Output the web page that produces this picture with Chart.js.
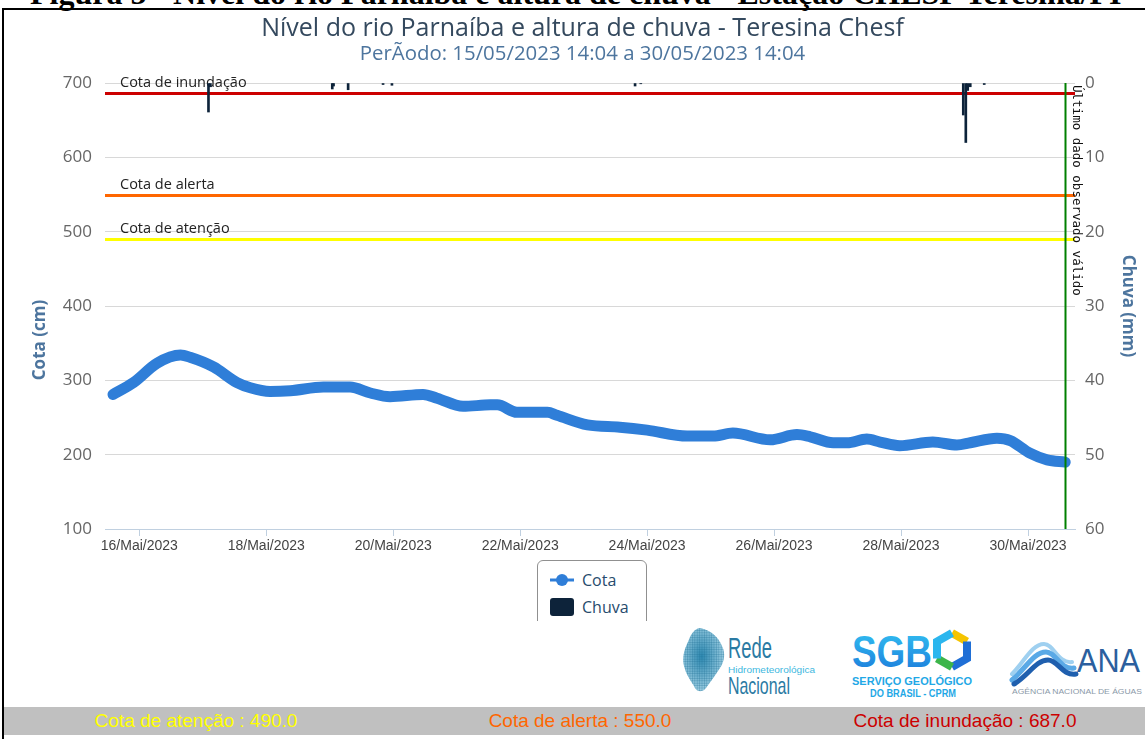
<!DOCTYPE html>
<html lang="pt-BR">
<head>
<meta charset="utf-8">
<title>Nível do rio Parnaíba e altura de chuva - Teresina Chesf</title>
<script src="https://cdn.jsdelivr.net/npm/chart.js@4.4.0/dist/chart.umd.min.js"></script>
<style>
  html,body{margin:0;padding:0;background:#fff;}
  body{width:1145px;height:739px;position:relative;overflow:hidden;font-family:"Open Sans",Arial,sans-serif;}
  #figura{position:absolute;left:30px;top:-23px;font:bold 32px "Liberation Serif","Times New Roman",serif;white-space:nowrap;line-height:32px;color:#000;}
  #grafico{position:absolute;left:0;top:0;width:1145px;height:621px;overflow:hidden;}
  #moldura{position:absolute;left:2px;top:8px;width:1160px;height:760px;border-left:2px solid #000;border-top:2px solid #000;pointer-events:none;}
  #legenda{position:absolute;left:537px;top:560px;width:108px;height:80px;border:1px solid #909090;border-radius:6px;background:#fff;}
  #legenda .item{position:absolute;left:44px;font-size:16px;color:#274b6d;line-height:20px;}
  #legenda .simb{position:absolute;left:-33px;}
  #logos{position:absolute;left:660px;top:622px;}
  #rodape{position:absolute;left:4px;top:707px;width:1141px;height:28px;background:#c0c0c0;font:19px "Liberation Sans",Arial,sans-serif;line-height:28px;}
  #rodape span{position:absolute;transform:translateX(-50%);white-space:nowrap;}
</style>
</head>
<body>
<div id="figura">Figura 5 - Nível do rio Parnaíba e altura de chuva - Estação CHESF Teresina/PI</div>
<div id="grafico"><canvas id="chart"></canvas>
  <div id="legenda"></div>
</div>

<svg id="logos" width="485" height="84" viewBox="0 0 485 84">
  <defs>
    <pattern id="pontos" width="2.4" height="2.4" patternUnits="userSpaceOnUse">
      <circle cx="1.2" cy="1.2" r="0.95" fill="#1f6f95"/>
    </pattern>
    <radialGradient id="gradMapa" cx="0.45" cy="0.45" r="0.6">
      <stop offset="0" stop-color="#2f8db5"/>
      <stop offset="1" stop-color="#bfe6f5"/>
    </radialGradient>
    <linearGradient id="gradSgb" x1="0" y1="0" x2="0" y2="1">
      <stop offset="0" stop-color="#33c3f2"/>
      <stop offset="1" stop-color="#1b78da"/>
    </linearGradient>
  </defs>
  <!-- Rede Hidrometeorológica Nacional -->
  <path d="M40 6 C50 8 58 14 62 24 C66 32 64 40 60 46 C56 52 52 58 46 66 C42 71 36 70 34 64 C30 58 26 52 24 44 C22 36 24 28 28 20 C31 12 34 7 40 6 Z" fill="url(#gradMapa)"/>
  <path d="M40 6 C50 8 58 14 62 24 C66 32 64 40 60 46 C56 52 52 58 46 66 C42 71 36 70 34 64 C30 58 26 52 24 44 C22 36 24 28 28 20 C31 12 34 7 40 6 Z" fill="url(#pontos)" opacity="0.6"/>
  <text x="68" y="36" font-family="Liberation Sans Narrow, Liberation Sans, Arial" font-size="30" fill="#2a7aa3" textLength="44" lengthAdjust="spacingAndGlyphs">Rede</text>
  <text x="68" y="51" font-family="Liberation Sans Narrow, Liberation Sans, Arial" font-size="9" fill="#40b8e0" textLength="87" lengthAdjust="spacingAndGlyphs">Hidrometeorológica</text>
  <text x="68" y="72" font-family="Liberation Sans Narrow, Liberation Sans, Arial" font-size="24" fill="#2a7aa3" textLength="62" lengthAdjust="spacingAndGlyphs">Nacional</text>
  <!-- SGB -->
  <text x="192" y="45" font-family="Liberation Sans, Arial" font-weight="bold" font-size="44" fill="url(#gradSgb)" textLength="80" lengthAdjust="spacingAndGlyphs">SGB</text>
  <g fill="none" stroke-width="8" stroke-linecap="butt">
    <path d="M292 11 L307 19.5" stroke="#f5c400"/>
    <path d="M307 19.5 L307 36.5 L292 45" stroke="#1f6fd6"/>
    <path d="M292 45 L277 36.5" stroke="#3cb54a"/>
    <path d="M277 36.5 L277 19.5 L292 11" stroke="#2bb6ee"/>
  </g>
  <text x="192" y="63" font-family="Liberation Sans, Arial" font-weight="bold" font-size="11" fill="#1fa8e6" textLength="120" lengthAdjust="spacingAndGlyphs">SERVIÇO GEOLÓGICO</text>
  <text x="210" y="75" font-family="Liberation Sans, Arial" font-weight="bold" font-size="11" fill="#1fa8e6" textLength="86" lengthAdjust="spacingAndGlyphs">DO BRASIL - CPRM</text>
  <!-- ANA -->
  <g fill="none" stroke-linecap="round">
    <path d="M352 52 C364 40 372 22 384 22 C394 22 398 42 412 40" stroke="#9fd0f0" stroke-width="4"/>
    <path d="M352 58 C366 46 374 30 386 30 C396 30 400 48 414 46" stroke="#5aa9e6" stroke-width="5"/>
    <path d="M354 62 C368 54 376 38 388 38 C398 38 402 54 416 52" stroke="#1f5fae" stroke-width="5"/>
  </g>
  <text x="417" y="50" font-family="Liberation Sans, Arial" font-size="34" fill="#2b5f9e" textLength="63" lengthAdjust="spacingAndGlyphs">ANA</text>
  <text x="352" y="72" font-family="Liberation Sans, Arial" font-size="7.5" fill="#8a99a8" textLength="130" lengthAdjust="spacingAndGlyphs">AGÊNCIA NACIONAL DE ÁGUAS</text>
</svg>

<div id="rodape">
  <span style="left:192px;color:#ffff00">Cota de atenção : 490.0</span>
  <span style="left:576px;color:#ff6600">Cota de alerta : 550.0</span>
  <span style="left:961px;color:#cc0000">Cota de inundação : 687.0</span>
</div>
<div id="moldura"></div>

<script>
// --- Dados (dia de maio/2023, com fração do dia) ---
const cotaDias = [15.586, 15.91, 16.28, 16.65, 16.80, 17.17, 17.54, 17.75, 18.06, 18.38, 18.90, 19.32, 19.64, 19.95,
  20.47, 20.69, 21.10, 21.53, 21.64, 21.95, 22.43, 22.58, 23.06, 23.57, 24.00, 24.63, 25.04, 25.35, 25.94,
  26.36, 26.57, 26.93, 27.15, 27.46, 27.67, 27.98, 28.50, 28.88, 29.09, 29.51, 29.72, 30.03, 30.30, 30.586];
const cotaCm = [281, 297, 323, 334, 331, 318, 297, 290, 285, 286, 291, 291, 283, 278,
  281, 276, 265, 267, 267, 257, 257, 253, 240, 237, 233, 225, 225, 229, 220,
  227, 224, 216, 216, 221, 217, 212, 217, 213, 216, 222, 219, 202, 193, 190];

const chuvaDias = [17.09, 17.12, 19.04, 19.06, 19.29, 19.84, 19.98, 23.81, 23.90, 28.98, 29.02, 29.05, 29.09, 29.31];
const chuvaMm = [3.9, 0.5, 0.8, 0.4, 0.9, 0.2, 0.3, 0.4, 0.1, 4.3, 8.0, 1.0, 0.5, 0.2];

const xTicks = [16, 18, 20, 22, 24, 26, 28, 30];
const xRotulos = ['16/Mai/2023', '18/Mai/2023', '20/Mai/2023', '22/Mai/2023', '24/Mai/2023', '26/Mai/2023', '28/Mai/2023', '30/Mai/2023'];

const cotaNiveis = [687, 550, 490];
const cotaNomes = ['Cota de inundação', 'Cota de alerta', 'Cota de atenção'];
const cotaCores = ['#cc0000', '#ff6600', '#ffff00'];
const ultimoDado = 30.586;

Chart.defaults.font.family = '"Open Sans", Arial, sans-serif';

// --- Linhas de cota, último dado e título do eixo ---
const linhasPlugin = {
  id: 'linhas',
  beforeDatasetsDraw(chart){
    const {ctx, chartArea: a, scales: {y}} = chart;
    ctx.save();
    cotaNiveis.forEach((v, i) => {
      const py = Math.round(y.getPixelForValue(v)) + 0.5;
      ctx.strokeStyle = cotaCores[i]; ctx.lineWidth = 3;
      ctx.beginPath(); ctx.moveTo(a.left, py); ctx.lineTo(a.right, py); ctx.stroke();
      ctx.fillStyle = '#222'; ctx.font = '14.5px "Open Sans", Arial'; ctx.textBaseline = 'alphabetic';
      ctx.fillText(cotaNomes[i], a.left + 15, py - 7);
    });
    ctx.restore();
  },
  afterDatasetsDraw(chart){
    const {ctx, chartArea: a, scales: {x}} = chart;
    const px = Math.round(x.getPixelForValue(ultimoDado)) + 0.5;
    ctx.save();
    ctx.strokeStyle = '#008000'; ctx.lineWidth = 2;
    ctx.beginPath(); ctx.moveTo(px, a.top); ctx.lineTo(px, a.bottom); ctx.stroke();
    ctx.translate(px + 10.5, a.top + 2);
    ctx.rotate(Math.PI / 2);
    ctx.fillStyle = '#111'; ctx.font = '12.5px "DejaVu Sans Mono", monospace';
    ctx.textBaseline = 'middle'; ctx.textAlign = 'left';
    ctx.fillText('Último dado observado válido', 0, 0);
    ctx.restore();
  },
  afterDraw(chart){
    const {ctx, chartArea: a} = chart;
    ctx.save();
    ctx.translate(40, (a.top + a.bottom) / 2 + 34);
    ctx.rotate(-Math.PI / 2);
    ctx.fillStyle = '#4d759e'; ctx.font = 'bold 17px "Open Sans", Arial';
    ctx.textAlign = 'center'; ctx.textBaseline = 'middle';
    ctx.fillText(chart.options.scales.y.title.text, 0, 0);
    ctx.restore();
  }
};

const chart = new Chart(document.getElementById('chart'), {
  type: 'line',
  data: {
    datasets: [{
      type: 'line', label: 'Cota', yAxisID: 'y',
      data: cotaDias.map((d, i) => ({x: d, y: cotaCm[i]})),
      borderColor: '#2f7ed8', backgroundColor: '#2f7ed8', borderWidth: 11,
      borderCapStyle: 'round', borderJoinStyle: 'round',
      pointRadius: 0, cubicInterpolationMode: 'monotone', order: 1
    }, {
      type: 'bar', label: 'Chuva', yAxisID: 'y1',
      data: chuvaDias.map((d, i) => ({x: d, y: chuvaMm[i]})),
      backgroundColor: '#0d233a', barThickness: 2, grouped: false, order: 2
    }]
  },
  options: {
    responsive: true, maintainAspectRatio: false, animation: false,
    layout: {padding: {left: 20, right: 0, top: 10, bottom: 62}},
    plugins: {
      legend: {display: false},
      tooltip: {enabled: false},
      title: {display: true, text: 'Nível do rio Parnaíba e altura de chuva - Teresina Chesf',
        color: '#34495e', font: {size: 25, weight: 'normal', lineHeight: 1.1}, padding: {top: 5.5, bottom: 0}},
      subtitle: {display: true, text: 'PerÃodo: 15/05/2023 14:04 a 30/05/2023 14:04',
        color: '#4d759e', font: {size: 20.4, lineHeight: 1.1}, padding: {top: 0, bottom: 17.6}}
    },
    scales: {
      x: {
        type: 'linear', min: 15.46, max: 30.74, offset: false,
        afterBuildTicks: s => { s.ticks = xTicks.map(v => ({value: v})); },
        afterFit: s => { s.height = 30; },
        grid: {drawOnChartArea: false, drawTicks: true, tickLength: 7, color: '#c0d0e0', offset: false},
        border: {color: '#c0d0e0'},
        ticks: {callback: v => xRotulos[xTicks.indexOf(v)] ?? '', maxRotation: 0, autoSkip: false,
          padding: 2, color: '#444', font: {family: '"Liberation Sans", Arial', size: 14}}
      },
      y: {
        position: 'left', min: 100, max: 700,
        afterFit: s => { s.width = 85; },
        title: {display: false, text: 'Cota (cm)'},
        grid: {color: '#d8d8d8', drawTicks: false},
        border: {display: false},
        ticks: {stepSize: 100, padding: 13, color: '#666', font: {size: 17}}
      },
      y1: {
        position: 'right', min: 0, max: 60, reverse: true,
        afterFit: s => { s.width = 70; },
        title: {display: true, text: 'Chuva (mm)', color: '#4d759e', font: {size: 17, weight: 'bold'}, padding: {top: 7}},
        grid: {drawOnChartArea: false, drawTicks: false},
        border: {display: false},
        ticks: {stepSize: 10, padding: 10, color: '#666', font: {size: 17}}
      }
    }
  },
  plugins: [linhasPlugin]
});

// --- Legenda ---
const legenda = document.getElementById('legenda');
chart.data.datasets.forEach((ds, i) => {
  const item = document.createElement('div');
  item.className = 'item';
  item.style.top = (i === 0 ? 9 : 36) + 'px';
  const simb = i === 0
    ? '<svg class="simb" width="26" height="20"><line x1="1" y1="10" x2="25" y2="10" stroke="' + ds.borderColor + '" stroke-width="3"/><circle cx="13" cy="10" r="6" fill="' + ds.borderColor + '"/></svg>'
    : '<svg class="simb" width="26" height="20"><rect x="1" y="1" width="24" height="18" rx="3" fill="' + ds.backgroundColor + '"/></svg>';
  item.innerHTML = simb + ds.label;
  legenda.appendChild(item);
});
</script>
</body>
</html>
